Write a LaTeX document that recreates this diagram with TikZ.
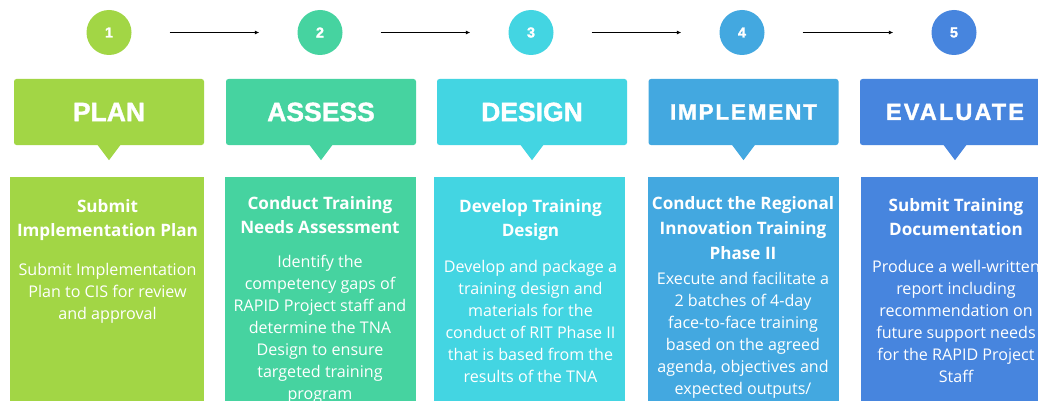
\documentclass[tikz,border=0pt]{standalone}
\usepackage{fontspec}
\setmainfont{Open Sans}
\newfontfamily\hdfont[FakeBold=1.5]{Liberation Sans}
\newfontfamily\hdwide[LetterSpace=8,FakeBold=1.5]{Liberation Sans}
\newfontfamily\hdwider[LetterSpace=9,FakeBold=1.5]{Liberation Sans}
\usetikzlibrary{arrows.meta}
\definecolor{cA}{HTML}{A2D645}
\definecolor{cB}{HTML}{46D3A0}
\definecolor{cC}{HTML}{43D5E2}
\definecolor{cD}{HTML}{43A8E0}
\definecolor{cE}{HTML}{4785DE}
\tikzset{
  num/.style={circle, minimum size=45pt, inner sep=0pt, text=white, font=\hdfont\bfseries\fontsize{14.5}{15}\selectfont},
  hdr/.style={rectangle, rounded corners=2.5pt, minimum width=190pt, minimum height=66pt, inner sep=0pt, text=white},
  hbig/.style={font=\hdfont\bfseries\fontsize{26.5}{28}\selectfont},
  hsmall/.style={font=\hdwide\bfseries\fontsize{22.5}{24}\selectfont},
  hsmallb/.style={font=\hdwider\bfseries\fontsize{23.5}{25}\selectfont},
  panel/.style={rectangle, anchor=north west, minimum height=240pt, inner sep=0pt},
  ttl/.style={anchor=base, inner sep=0pt, text=white, font=\bfseries\fontsize{17.1}{18}\selectfont},
  bd/.style={anchor=base, inner sep=0pt, text=white, font=\fontsize{16.1}{18}\selectfont},
  arr/.style={-{Latex[length=4.5pt,width=4pt]}, line width=0.9pt, black, shorten <=38pt, shorten >=38pt}
}
\begin{document}
\begin{tikzpicture}[x=1pt,y=-1pt]
\useasboundingbox (0,0) rectangle (1038,401);
\clip (0,0) rectangle (1038,401);
\fill[white] (0,0) rectangle (1038,401);

% number circles
\node[num, fill=cA] (n1) at (109,32.5) {1};
\node[num, fill=cB] (n2) at (320,32.5) {2};
\node[num, fill=cC] (n3) at (531,32.5) {3};
\node[num, fill=cD] (n4) at (742,32.5) {4};
\node[num, fill=cE] (n5) at (954,32.5) {5};
\draw[arr] (n1) -- (n2);
\draw[arr] (n2) -- (n3);
\draw[arr] (n3) -- (n4);
\draw[arr] (n4) -- (n5);

% headers
\node[hdr, hbig, fill=cA] (h1) at (109,112) {PLAN};
\node[hdr, hbig, fill=cB] (h2) at (321,112) {ASSESS};
\node[hdr, hbig, fill=cC] (h3) at (532,112) {DESIGN};
\node[hdr, hsmall, fill=cD] (h4) at (743.5,112) {IMPLEMENT};
\node[hdr, hsmallb, fill=cE] (h5) at (955,112) {EVALUATE};
\foreach \h/\c in {h1/cA,h2/cB,h3/cC,h4/cD,h5/cE}
  \fill[\c] ([xshift=-12pt,yshift=1pt]\h.south) -- ([xshift=12pt,yshift=1pt]\h.south) -- ([yshift=-15pt]\h.south) -- cycle;

% panels
\node[panel, fill=cA, minimum width=194pt] (p1) at (10,177) {};
\node[panel, fill=cB, minimum width=191pt] (p2) at (225,177) {};
\node[panel, fill=cC, minimum width=191pt] (p3) at (434,177) {};
\node[panel, fill=cD, minimum width=191pt] (p4) at (648,177) {};
\node[panel, fill=cE, minimum width=191pt] (p5) at (861,177) {};

% panel 1
\node[ttl] (t1a) at (107.5,212) {Submit};
\node[ttl] (t1b) at (107.5,236) {Implementation Plan};
\foreach \s [count=\i from 0] in {Submit Implementation, Plan to CIS for review, and approval}
  \node[bd] (b1-\i) at (107.5,275+22*\i) {\s};

% panel 2
\node[ttl] (t2a) at (320,209) {Conduct Training};
\node[ttl] (t2b) at (320,233) {Needs Assessment};
\foreach \s [count=\i from 0] in {Identify the, competency gaps of, RAPID Project staff and, determine the TNA, Design to ensure, targeted training, program}
  \node[bd] (b2-\i) at (320,267+22*\i) {\s};

% panel 3
\node[ttl] (t3a) at (530.5,212) {Develop Training};
\node[ttl] (t3b) at (530.5,236) {Design};
\foreach \s [count=\i from 0] in {Develop and package a, training design and, materials for the, conduct of RIT Phase II, that is based from the, results of the TNA}
  \node[bd] (b3-\i) at (530.5,272+22*\i) {\s};

% panel 4
\node[ttl] (t4a) at (743,209) {Conduct the Regional};
\node[ttl] (t4b) at (743,234) {Innovation Training};
\node[ttl] (t4c) at (743,259) {Phase II};
\foreach \s [count=\i from 0] in {Execute and facilitate a, 2 batches of 4-day, face-to-face training, based on the agreed, {agenda, objectives and}, expected outputs/}
  \node[bd] (b4-\i) at (743,284+22*\i) {\s};

% panel 5
\node[ttl] (t5a) at (956,211) {Submit Training};
\node[ttl] (t5b) at (956,235) {Documentation};
\foreach \s [count=\i from 0] in {Produce a well-written, report including, recommendation on, future support needs, for the RAPID Project, Staff}
  \node[bd] (b5-\i) at (956,272+22*\i) {\s};
\end{tikzpicture}
\end{document}
